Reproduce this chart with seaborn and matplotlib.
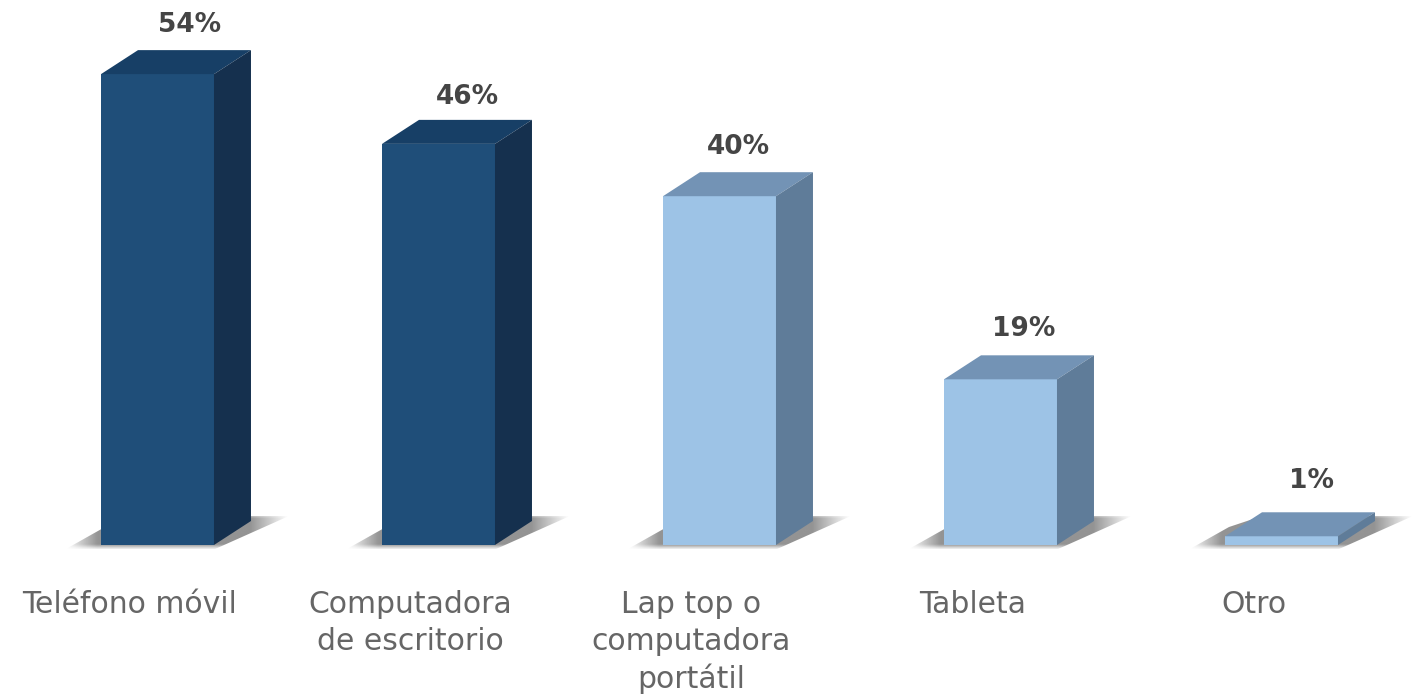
import numpy as np
import pandas as pd
import matplotlib
matplotlib.use("Agg")
import matplotlib.pyplot as plt
from matplotlib.patches import Polygon
from matplotlib.transforms import ScaledTranslation
import seaborn as sns

categorias = ["Teléfono móvil", "Computadora\nde escritorio", "Lap top o\ncomputadora\nportátil", "Tableta", "Otro"]
porcentajes = [54, 46, 40, 19, 1]
colores_frente = ["#1F4E79", "#1F4E79", "#9DC3E6", "#9DC3E6", "#9DC3E6"]
colores_arriba = ["#173F66", "#173F66", "#7393B5", "#7393B5", "#7393B5"]
colores_lado = ["#15304E", "#15304E", "#5F7C99", "#5F7C99", "#5F7C99"]

df = pd.DataFrame({"categoria": categorias, "valor": porcentajes})

sns.set_theme(style="white")
plt.rcParams["font.family"] = ["DejaVu Sans"]

W, H = 1412, 695
fig = plt.figure(figsize=(W / 100, H / 100), dpi=100)
# the axes bottom sits 5px under the bar baseline (y=545) so the shadows fit
ax = fig.add_axes([0, (H - 550) / H, 1, 550 / H])

PX_X = 281.0  # pixels per category
PX_Y = 8.72  # pixels per percent
DX = 37 / PX_X  # 3d depth
DY = 24 / PX_Y

sns.barplot(data=df, x="categoria", y="valor", hue="categoria", palette=colores_frente,
            width=0.402, legend=False, saturation=1, linewidth=0, ax=ax, zorder=3)

# 3d faces and shadow for each bar
for i, p in enumerate(ax.patches[:len(categorias)]):
    x0, x1 = p.get_x(), p.get_x() + p.get_width()
    y = p.get_height()
    ax.add_patch(Polygon([(x0, y), (x0 + DX, y + DY), (x1 + DX, y + DY), (x1, y)],
                         closed=True, fc=colores_arriba[i], ec="none", zorder=3))
    ax.add_patch(Polygon([(x1, 0), (x1 + DX, DY), (x1 + DX, y + DY), (x1, y)],
                         closed=True, fc=colores_lado[i], ec="none", zorder=3))

    # soft shadow on the floor, fades out at both ends and towards the edges
    sx0, sx1 = x0 - 36 / PX_X, x1 + DX + 38 / PX_X
    sy0, sy1 = -4.5 / PX_Y, DY + 5 / PX_Y
    xpos = np.linspace(sx0, sx1, 160)
    ax_fade = np.interp(xpos, [sx0, x0 - 4 / PX_X, x1 + DX, sx1], [0, 0.6, 0.6, 0])
    ypos = np.linspace(sy1, sy0, 60)
    ay_fade = np.interp(ypos, [sy0, 0, sy1 - 3 / PX_Y, sy1], [0.15, 1, 1, 0.5])
    rgba = np.zeros((60, 160, 4))
    rgba[..., :3] = 0.3
    rgba[..., 3] = np.outer(ay_fade, ax_fade)
    im = ax.imshow(rgba, extent=(sx0, sx1, sy0, sy1), aspect="auto", zorder=2, interpolation="bilinear")
    clip = Polygon([(sx0, sy0), (x1, sy0), (sx1, sy1), (x0 + DX, sy1), (x0 + 4 / PX_X, 18 / PX_Y)],
                   closed=True, transform=ax.transData)
    im.set_clip_path(clip)

# value labels
label_dx = [32, 29, 19, 23, 30]
label_dy = [25, 23, 25, 26, 31]
for i, v in enumerate(porcentajes):
    ax.annotate(f"{v}%", (i, v + DY), xytext=(label_dx[i] * 0.72, label_dy[i] * 0.72),
                textcoords="offset points", ha="center", va="center",
                fontsize=19, fontweight="bold", color="#454545")

ax.set_xlim(-157.5 / PX_X, (W - 157.5) / PX_X)
ax.set_ylim(-5 / PX_Y, 545 / PX_Y)
ax.set_xlabel("")
ax.set_ylabel("")
ax.set_yticks([])
ax.tick_params(axis="x", length=0, pad=29)
ax.set_xticks(range(len(categorias)))
ax.set_xticklabels(categorias, fontsize=21.5, color="#666666", linespacing=1.33, va="top")
shift = ScaledTranslation(-28 / 100, 0, fig.dpi_scale_trans)
for lab in ax.get_xticklabels():
    lab.set_transform(lab.get_transform() + shift)
sns.despine(ax=ax, left=True, bottom=True)

fig.savefig("out.png", dpi=100, facecolor="white")
